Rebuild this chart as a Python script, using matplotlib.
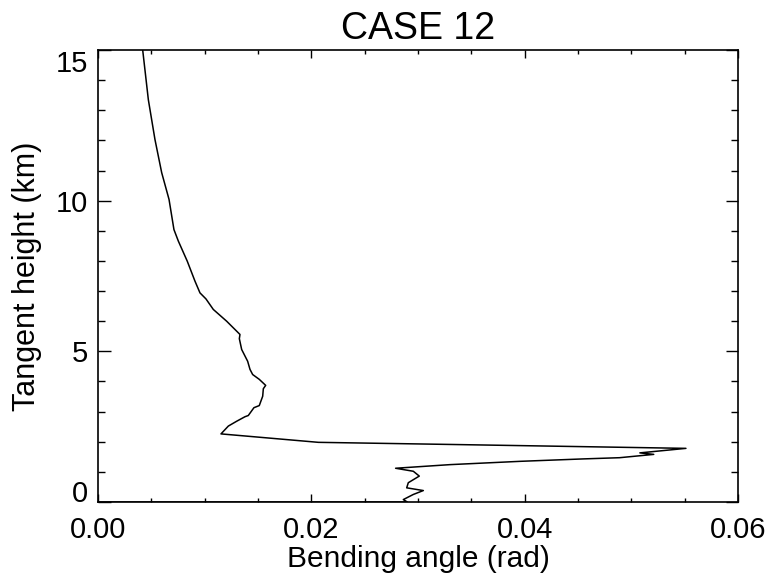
"""
Bending angle profile, CASE 12.
"""

import matplotlib
matplotlib.use('Agg')
import matplotlib.pyplot as plt
from matplotlib.ticker import MultipleLocator

# Profile, top (15 km) down to the surface.
bending_angle = [
    0.00419, 0.00472, 0.00534, 0.00597, 0.00666, 0.00712, 0.00753, 0.00837,
    0.00909, 0.00956, 0.01012, 0.01081, 0.01206, 0.01331, 0.01325, 0.01347,
    0.01403, 0.01425, 0.01450, 0.01512, 0.01572, 0.01550, 0.01544, 0.01512,
    0.01462, 0.01409, 0.01378, 0.01300, 0.01222, 0.01153, 0.02066, 0.03300,
    0.05512, 0.05080, 0.05210, 0.04890, 0.04550, 0.03960, 0.03300, 0.02790,
    0.02956, 0.03012, 0.02909, 0.02894, 0.03050, 0.02956, 0.02862, 0.02900,
    0.0]
tangent_height = [
    15.00, 13.35, 12.03, 10.93, 10.04, 9.04, 8.66, 7.99,
    7.33, 6.94, 6.74, 6.39, 6.00, 5.56, 5.42, 5.06,
    4.67, 4.40, 4.23, 4.07, 3.87, 3.76, 3.51, 3.20,
    3.13, 2.87, 2.83, 2.68, 2.52, 2.26, 1.98, 1.91,
    1.78, 1.63, 1.58, 1.47, 1.43, 1.35, 1.24, 1.12,
    1.02, 0.86, 0.64, 0.47, 0.38, 0.25, 0.08, 0.0,
    0.0]

title = 'CASE 12'
xlabel = 'Bending angle (rad)'
ylabel = 'Tangent height (km)'

plt.rcParams['font.family'] = ['Liberation Sans', 'DejaVu Sans']

fig = plt.figure(figsize=(7.71, 5.78), dpi=100)
axes = fig.add_axes([98 / 771, 1 - 502 / 578, 640 / 771, 452 / 578])
axes.plot(bending_angle, tangent_height, color='k', linewidth=1.1)

axes.set_xlim(0, 0.06)
axes.set_ylim(0, 15)
axes.xaxis.set_major_locator(MultipleLocator(0.02))
axes.xaxis.set_minor_locator(MultipleLocator(0.005))
axes.yaxis.set_major_locator(MultipleLocator(5))
axes.yaxis.set_minor_locator(MultipleLocator(1))
axes.xaxis.set_major_formatter(lambda v, pos: '%.2f' % v)
axes.yaxis.set_major_formatter(lambda v, pos: '%d' % round(v))

axes.tick_params(which='both', direction='in', top=True, right=True,
                 labelsize=21, width=1)
axes.tick_params(axis='x', which='major', length=6, pad=10)
axes.tick_params(axis='x', which='minor', length=3)
axes.tick_params(axis='y', which='major', length=9, pad=7)
axes.tick_params(axis='y', which='minor', length=5)
for spine in axes.spines.values():
    spine.set_linewidth(1.2)

# IDL keeps the end labels inside the axis range.
fig.canvas.draw()
for tick in axes.yaxis.get_major_ticks():
    if abs(tick.get_loc() - 0) < 1e-9:
        tick.label1.set_verticalalignment('baseline')
    elif abs(tick.get_loc() - 15) < 1e-9:
        tick.label1.set_verticalalignment('top')

axes.set_title(title, fontsize=27, pad=8)
axes.set_xlabel(xlabel, fontsize=21.5, labelpad=1)
axes.set_ylabel(ylabel, fontsize=22, labelpad=10)

plt.savefig('out.png', dpi=100)
